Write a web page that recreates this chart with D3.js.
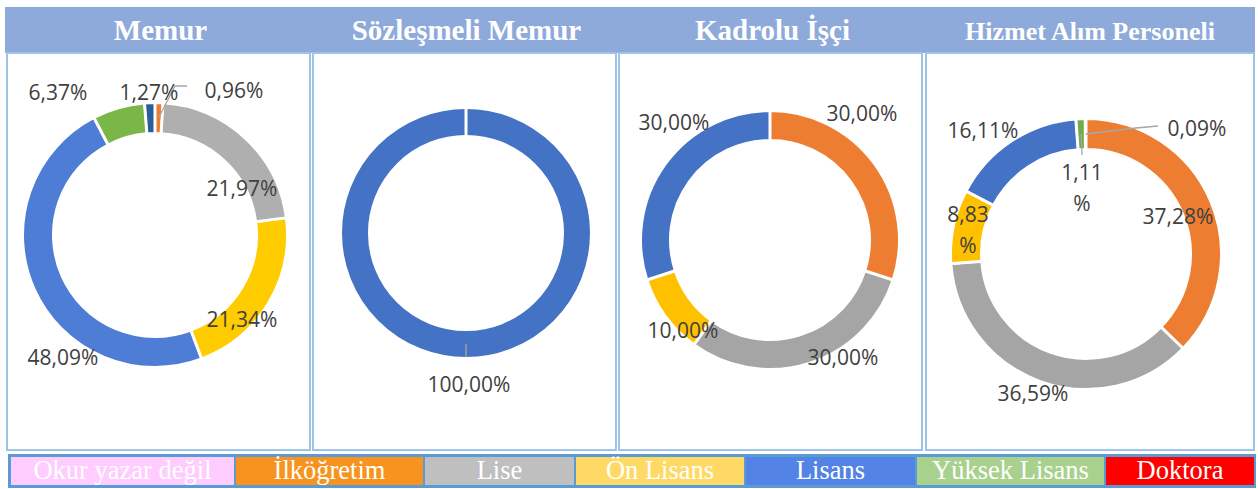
<!DOCTYPE html>
<html>
<head>
<meta charset="utf-8">
<script src="https://cdn.jsdelivr.net/npm/d3@7"></script>
<style>
  body { margin: 0; background: #fff; }
  svg { display: block; }
</style>
</head>
<body>
<svg width="1258" height="489"></svg>
<script>
// data
var chartTitles = ["Memur", "Sözleşmeli Memur", "Kadrolu İşçi", "Hizmet Alım Personeli"];
var categories = ["Okur yazar değil", "İlköğretim", "Lise", "Ön Lisans", "Lisans", "Yüksek Lisans", "Doktora"];
var memur      = [0, 0.96, 21.97, 21.34, 48.09, 6.37, 1.27];
var sozlesmeli = [0, 0, 0, 0, 100, 0, 0];
var kadrolu    = [0, 30, 30, 10, 30, 0, 0];
var hizmet     = [0, 37.28, 36.59, 8.83, 16.11, 1.11, 0.09];
var series = [memur, sozlesmeli, kadrolu, hizmet];

// colours
var legendColors = ["#FFCCFF", "#F7931E", "#BFBFBF", "#FFD966", "#5383E4", "#A9D18E", "#FF0000"];
var memurColors  = ["#FFCCFF", "#ED7D31", "#AFAFAF", "#FFCC00", "#4E7DD6", "#7AB648", "#2A6099"];
var officeColors = ["#FFCCFF", "#ED7D31", "#A5A5A5", "#FFC000", "#4472C4", "#70AD47", "#264478"];
var sliceColors = [memurColors, officeColors, officeColors, officeColors];

// layout
var panels = [[6, 311], [312, 617], [618, 923], [925, 1255]];
var donuts = [
  {cx: 155, cy: 235, r: 132, ri: 102},
  {cx: 466, cy: 233, r: 125, ri: 97},
  {cx: 770, cy: 240, r: 129, ri: 100},
  {cx: 1086, cy: 254, r: 135, ri: 105}
];
// label offsets from donut centre, indexed by category
var labelPos = [
  [null, [79, -145], [87, -47], [87, 84], [-92, 122], [-97, -143], [-6, -143]],
  [null, null, null, null, [3, 151], null, null],
  [null, [92, -127], [73, 117], [-87, 90], [-96, -118], null, null],
  [null, [92, -38], [-53, 139], [-118, -23], [-103, -124], [-4, -65], [111, -126]]
];
// leader lines (points relative to centre, first point is on the ring)
var leaders = [
  {chart: 0, cat: 1, pts: [[20, -149], [32, -149]]},
  {chart: 1, cat: 4, pts: [[0, 124]]},
  {chart: 3, cat: 5, pts: [[-4, -99]]},
  {chart: 3, cat: 6, pts: [[50, -126], [72, -128]]}
];
var legendWidths = [225, 189, 151, 170, 171, 189, 150];

var svg = d3.select("svg");

// header band
svg.append("rect")
  .attr("x", 5).attr("y", 7)
  .attr("width", 1250).attr("height", 46)
  .attr("fill", "#8EAADB");

// panels
svg.selectAll("rect.panel")
  .data(panels)
  .enter()
  .append("rect")
  .attr("class", "panel")
  .attr("x", function(d){ return d[0] + 1; })
  .attr("y", 53)
  .attr("width", function(d){ return d[1] - d[0] - 2; })
  .attr("height", 397)
  .attr("fill", "#fff")
  .attr("stroke", "#9DC3E6")
  .attr("stroke-width", 2);

// titles
svg.selectAll("text.title")
  .data(chartTitles)
  .enter()
  .append("text")
  .attr("class", "title")
  .attr("x", function(d, i){ return (panels[i][0] + panels[i][1]) / 2 + (i == 3 ? 0 : 2); })
  .attr("y", 40)
  .attr("text-anchor", "middle")
  .attr("fill", "#fff")
  .style("font-family", "'Liberation Serif', 'Times New Roman', serif")
  .style("font-weight", "bold")
  .style("font-size", function(d, i){ return i == 3 ? "26px" : "29px"; })
  .text(function(d){ return d; });

var pie = d3.pie().sort(null).value(function(d){ return d; });

function fmt(v) {
  return d3.format(".2f")(v).replace(".", ",") + "%";
}

series.forEach(function(values, ci) {
  var g = donuts[ci];
  var arc = d3.arc().innerRadius(g.ri).outerRadius(g.r);
  var slices = pie(values);
  var group = svg.append("g").attr("transform", "translate(" + g.cx + "," + g.cy + ")");

  group.selectAll("path")
    .data(slices.filter(function(d){ return d.value > 0; }))
    .enter()
    .append("path")
    .attr("d", arc)
    .attr("fill", function(d){ return sliceColors[ci][d.index]; })
    .attr("stroke", "#fff")
    .attr("stroke-width", 2);

  // white separator at each slice start (also gives the gap in the full ring)
  group.selectAll("line.sep")
    .data(slices.filter(function(d){ return d.value > 0; }))
    .enter()
    .append("line")
    .attr("class", "sep")
    .attr("x1", function(d){ return Math.sin(d.startAngle) * (g.ri - 2); })
    .attr("y1", function(d){ return -Math.cos(d.startAngle) * (g.ri - 2); })
    .attr("x2", function(d){ return Math.sin(d.startAngle) * (g.r + 2); })
    .attr("y2", function(d){ return -Math.cos(d.startAngle) * (g.r + 2); })
    .attr("stroke", "#fff")
    .attr("stroke-width", 3);

  // leaders
  leaders.filter(function(l){ return l.chart == ci; }).forEach(function(l) {
    var s = slices[l.cat];
    var mid = (s.startAngle + s.endAngle) / 2;
    var rm = (g.ri + g.r) / 2;
    var pts = [[Math.sin(mid) * rm, -Math.cos(mid) * rm]].concat(l.pts);
    group.append("path")
      .attr("d", d3.line()(pts))
      .attr("fill", "none")
      .attr("stroke", "#A6A6A6")
      .attr("stroke-width", 1.3);
  });

  // labels
  slices.forEach(function(s) {
    var p = labelPos[ci][s.index];
    if (!p || s.value <= 0) return;
    var t = group.append("text")
      .attr("x", p[0])
      .attr("y", p[1])
      .attr("text-anchor", "middle")
      .attr("fill", "#404040")
      .style("font-family", "'Open Sans', sans-serif")
      .style("font-size", "21px");
    var txt = fmt(s.value);
    // narrow slices in the last chart wrap the percent sign
    if (ci == 3 && (s.index == 3 || s.index == 5)) {
      t.append("tspan").attr("x", p[0]).attr("dy", "-0.42em").text(txt.slice(0, -1));
      t.append("tspan").attr("x", p[0]).attr("dy", "1.45em").text("%");
    } else {
      t.attr("dy", "0.36em").text(txt);
    }
  });
});

// legend
var legendX = [10];
legendWidths.forEach(function(w, i){ legendX.push(legendX[i] + w); });

svg.append("rect")
  .attr("x", 8).attr("y", 454)
  .attr("width", 1248).attr("height", 34)
  .attr("fill", "#5B9BD5");

var legend = svg.selectAll("g.leg")
  .data(categories)
  .enter()
  .append("g")
  .attr("class", "leg");

legend.append("rect")
  .attr("x", function(d, i){ return legendX[i] + 1; })
  .attr("y", 457)
  .attr("width", function(d, i){ return legendWidths[i] - 2; })
  .attr("height", 28)
  .attr("fill", function(d, i){ return legendColors[i]; });

legend.append("text")
  .attr("x", function(d, i){ return legendX[i] + legendWidths[i] / 2; })
  .attr("y", 479)
  .attr("text-anchor", "middle")
  .attr("fill", "#fff")
  .style("font-family", "'Liberation Serif', 'Times New Roman', serif")
  .style("font-size", "26.5px")
  .text(function(d){ return d; });
</script>
</body>
</html>
